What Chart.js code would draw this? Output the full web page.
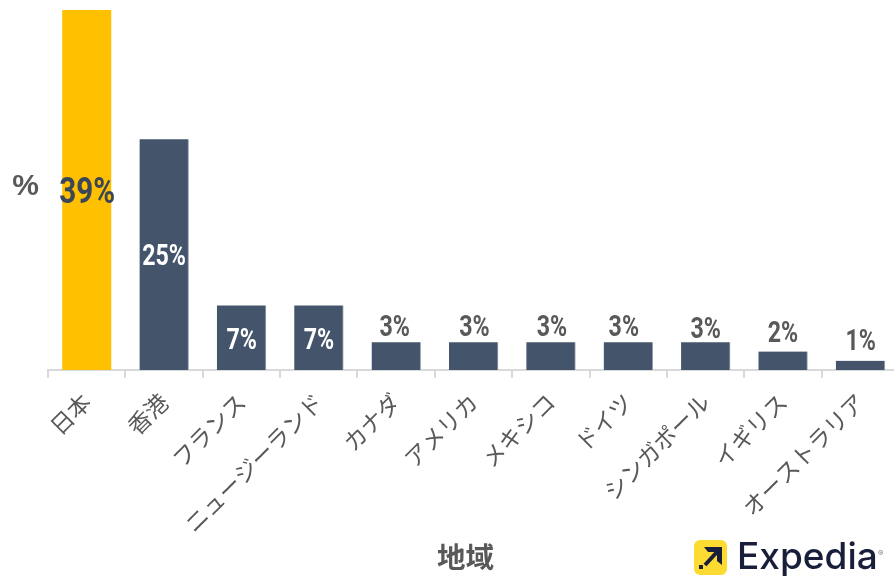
<!DOCTYPE html>
<html lang="ja"><head><meta charset="utf-8">
<style>html,body{margin:0;padding:0;background:#fff;overflow:hidden;width:894px;height:576px}canvas{display:block}</style>
<script src="https://cdn.jsdelivr.net/npm/chart.js@4"></script></head><body>
<div style="width:894px;height:576px;overflow:hidden"><canvas id="c" width="899" height="576"></canvas></div>
<script>
const categories = ["日本","香港","フランス","ニュージーランド","カナダ","アメリカ","メキシコ","ドイツ","シンガポール","イギリス","オーストラリア"];
const values = [39,25,7,7,3,3,3,3,3,2,1];
const xTitle = "地域";
const yTitle = "%";
const GREY = '#595959';
// hand placement of the value labels, relative to the bar
const labelDx = [0.5,0,0.3,0.2,-1.5,1,1,-4.4,0.2,0,0.4];
const labelDy = [4,3.5,4,4,-13.5,-13.5,-13.5,-13.5,-11.5,-17,-18];

const labelsPlugin = {
  id:'labels',
  afterDatasetsDraw(ch){
    const ctx = ch.ctx, meta = ch.getDatasetMeta(0);
    meta.data.forEach((bar,i)=>{
      const v = values[i], inside = v>=7;
      const y = (inside ? (bar.y+bar.base)/2 : bar.y) + labelDy[i];
      const size = i===0 ? 37 : 29;
      ctx.save();
      ctx.translate(bar.x+labelDx[i],y);
      ctx.scale(0.8,1);
      ctx.textAlign='center'; ctx.textBaseline='middle';
      ctx.font=`bold ${size}px Roboto`;
      ctx.fillStyle = i===0 ? '#3b4659' : inside ? '#ffffff' : GREY;
      ctx.fillText(v+'%',0,0);
      ctx.restore();
    });
  },
  afterDraw(ch){
    const ctx = ch.ctx;
    ctx.save();
    ctx.fillStyle=GREY; ctx.textBaseline='middle'; ctx.textAlign='center';
    ctx.font='bold 28.5px "Noto Sans CJK JP"';
    ctx.fillText(xTitle,465.5,557);
    ctx.font='bold 30px "Liberation Sans"';
    ctx.fillText(yTitle,25.5,187);
    // brand mark
    ctx.fillStyle='#fddb32';
    ctx.beginPath(); ctx.roundRect(694,540,33,35,6); ctx.fill();
    ctx.strokeStyle='#191e3b'; ctx.fillStyle='#191e3b'; ctx.lineWidth=4;
    ctx.beginPath(); ctx.moveTo(705,565); ctx.lineTo(717,552); ctx.stroke();
    ctx.beginPath(); ctx.moveTo(704,547); ctx.lineTo(722,547); ctx.lineTo(722,565); ctx.lineTo(717,561); ctx.lineTo(717,552); ctx.lineTo(708,552); ctx.closePath(); ctx.fill();
    ctx.fillRect(699,565,4,4);
    ctx.textAlign='left'; ctx.textBaseline='alphabetic';
    ctx.font='500 37px Inter';
    ctx.fillText('Expedia',737,569);
    ctx.font='8px Inter';
    ctx.fillStyle='#777';
    ctx.fillText('®',878,556);
    ctx.restore();
  }
};

new Chart(document.getElementById('c'),{
  type:'bar',
  data:{labels:categories,datasets:[{
    data:values,
    backgroundColor:values.map((v,i)=>i===0?'#ffc000':'#44546a'),
    borderColor:values.map((v,i)=>i===0?'#ffc000':'#9aa3af'),
    borderWidth:{top:0,left:0,bottom:0,right:1},
    barThickness:49
  }]},
  options:{
    responsive:false,animation:false,
    layout:{padding:{top:10,left:48,right:0,bottom:0}},
    plugins:{legend:{display:false},tooltip:{enabled:false}},
    scales:{
      x:{
        afterFit(s){s.height=206;},
        border:{color:'#d9d9d9',width:2},
        grid:{offset:true,drawOnChartArea:false,color:'#d9d9d9',lineWidth:2,tickLength:8,tickColor:'#d9d9d9'},
        ticks:{color:GREY,minRotation:45,maxRotation:45,autoSkip:false,padding:10,font:{family:'"Noto Sans CJK JP"',size:23}}
      },
      y:{display:false,min:0,max:39}
    }
  },
  plugins:[labelsPlugin]
});
</script></body></html>
